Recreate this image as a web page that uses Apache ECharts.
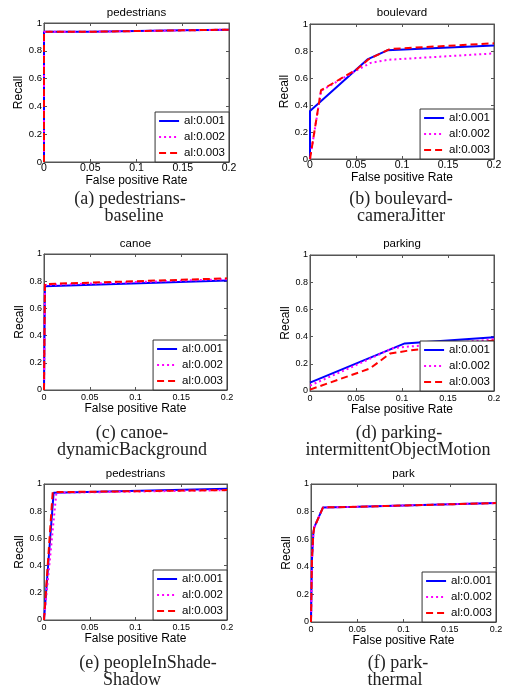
<!DOCTYPE html>
<html>
<head>
<meta charset="utf-8">
<script src="https://cdn.jsdelivr.net/npm/echarts@6.0.0/dist/echarts.min.js"></script>
<style>
html,body{margin:0;padding:0;background:#fff}
#chart{width:505px;height:690px}
</style>
</head>
<body>
<div id="chart"></div>
<script>
// legend names
var seriesNames = ['al:0.001', 'al:0.002', 'al:0.003'];

// (a) pedestrians - baseline
var baseline001 = [[0,0],[0,0.937],[0.05,0.937],[0.05,0.942],[0.1,0.942],[0.1,0.947],[0.15,0.947],[0.15,0.952],[0.2,0.952]];
var baseline002 = [[0,0],[0,0.937],[0.05,0.937],[0.05,0.942],[0.1,0.942],[0.1,0.947],[0.15,0.947],[0.15,0.952],[0.2,0.952]];
var baseline003 = [[0,0],[0,0.937],[0.05,0.937],[0.05,0.942],[0.1,0.942],[0.1,0.947],[0.15,0.947],[0.15,0.952],[0.2,0.952]];

// (b) boulevard - cameraJitter
var boulevard001 = [[0,0],[0,0.355],[0.063,0.74],[0.084,0.805],[0.2,0.84]];
var boulevard002 = [[0,0],[0.012,0.505],[0.05,0.655],[0.066,0.712],[0.085,0.735],[0.2,0.782]];
var boulevard003 = [[0,0],[0.012,0.51],[0.05,0.66],[0.064,0.74],[0.087,0.815],[0.2,0.857]];

// (c) canoe - dynamicBackground
var canoe001 = [[0,0],[0.001,0.763],[0.2,0.805]];
var canoe002 = [[0,0],[0.001,0.772],[0.2,0.815]];
var canoe003 = [[0,0],[0.001,0.779],[0.2,0.821]];

// (d) parking - intermittentObjectMotion
var parking001 = [[0,0.062],[0.103,0.35],[0.2,0.395]];
var parking002 = [[0,0.04],[0.05,0.19],[0.09,0.315],[0.105,0.325],[0.2,0.38]];
var parking003 = [[0,0.01],[0.065,0.165],[0.087,0.275],[0.105,0.295],[0.2,0.372]];

// (e) peopleInShade - Shadow
var shade001 = [[0,0],[0.0105,0.935],[0.2,0.965]];
var shade002 = [[0,0],[0.0135,0.935],[0.2,0.955]];
var shade003 = [[0,0],[0.0095,0.94],[0.2,0.955]];

// (f) park - thermal
var park001 = [[0,0],[0.001,0.45],[0.0025,0.64],[0.0035,0.685],[0.013,0.83],[0.05,0.835],[0.2,0.862]];
var park002 = [[0,0],[0.001,0.45],[0.0025,0.64],[0.0035,0.685],[0.013,0.83],[0.05,0.835],[0.2,0.862]];
var park003 = [[0,0],[0.001,0.45],[0.0025,0.64],[0.0035,0.685],[0.013,0.83],[0.05,0.835],[0.2,0.862]];

var panelTitles = ['pedestrians', 'boulevard', 'canoe', 'parking', 'pedestrians', 'park'];
var captions = [
  ['(a) pedestrians-', 'baseline'],
  ['(b) boulevard-', 'cameraJitter'],
  ['(c) canoe-', 'dynamicBackground'],
  ['(d) parking-', 'intermittentObjectMotion'],
  ['(e) peopleInShade-', 'Shadow'],
  ['(f) park-', 'thermal']
];
var panelData = [
  [baseline001, baseline002, baseline003],
  [boulevard001, boulevard002, boulevard003],
  [canoe001, canoe002, canoe003],
  [parking001, parking002, parking003],
  [shade001, shade002, shade003],
  [park001, park002, park003]
];

// plot boxes [left, top, width, height]
var boxes = [
  [44, 23, 185, 139],
  [310, 24, 184, 135],
  [44, 254, 183, 136],
  [310, 255, 184, 136],
  [44, 484, 183, 136],
  [311, 484, 185, 138]
];
// per panel: title y, caption line y's, caption x centers
var titleY = [13, 13, 244, 244, 474, 474];
var capY = [[199, 216], [199, 216], [433, 450], [433, 450], [663, 680], [663, 680]];
var capX = [[130, 134], [401, 401], [132, 132], [399, 398], [148, 132], [398, 395]];

var lineColors = ['#0000ff', '#ff00ff', '#ff0000'];
var lineTypes = ['solid', [2, 3], [7, 4]];

var W = 505, H = 690;
var grids = [], xAxes = [], yAxes = [], series = [], legends = [], graphics = [];

for (var i = 0; i < 6; i++) {
  var b = boxes[i];
  var row = Math.floor(i / 2);
  grids.push({
    left: b[0], top: b[1], width: b[2], height: b[3],
    show: true, borderColor: '#555', borderWidth: 1, backgroundColor: '#fff',
    containLabel: false, outerBoundsMode: 'none'
  });
  var xFont = row === 0 ? 10.5 : 9;
  var yFont = row === 0 ? 9.5 : 9;
  // bottom + top x axis
  xAxes.push({
    type: 'value', gridIndex: i, min: 0, max: 0.2, interval: 0.05, position: 'bottom',
    name: 'False positive Rate', nameLocation: 'middle', nameGap: row === 0 ? 10 : 12,
    nameTextStyle: {fontFamily: 'Liberation Sans', fontSize: 12, color: '#000'},
    axisLine: {show: true, onZero: false, lineStyle: {color: '#555', width: 1}},
    axisTick: {show: true, inside: true, length: 3, lineStyle: {color: '#555'}},
    axisLabel: {fontFamily: 'Liberation Sans', fontSize: xFont, color: '#000', margin: row === 0 ? 1 : 3,
      showMinLabel: true, showMaxLabel: true, hideOverlap: false},
    splitLine: {show: false}
  });
  xAxes.push({
    type: 'value', gridIndex: i, min: 0, max: 0.2, interval: 0.05, position: 'top',
    axisLine: {show: true, onZero: false, lineStyle: {color: '#555', width: 1}},
    axisTick: {show: true, inside: true, length: 3, lineStyle: {color: '#555'}},
    axisLabel: {show: false}, splitLine: {show: false}
  });
  yAxes.push({
    type: 'value', gridIndex: i, min: 0, max: 1, interval: 0.2, position: 'left',
    name: 'Recall', nameLocation: 'middle', nameGap: 17,
    nameTextStyle: {fontFamily: 'Liberation Sans', fontSize: 12, color: '#000'},
    axisLine: {show: true, onZero: false, lineStyle: {color: '#555', width: 1}},
    axisTick: {show: true, inside: true, length: 3, lineStyle: {color: '#555'}},
    axisLabel: {fontFamily: 'Liberation Sans', fontSize: yFont, color: '#000', margin: 2,
      showMinLabel: true, showMaxLabel: true, hideOverlap: false},
    splitLine: {show: false}
  });
  yAxes.push({
    type: 'value', gridIndex: i, min: 0, max: 1, interval: 0.2, position: 'right',
    axisLine: {show: true, onZero: false, lineStyle: {color: '#555', width: 1}},
    axisTick: {show: true, inside: true, length: 3, lineStyle: {color: '#555'}},
    axisLabel: {show: false}, splitLine: {show: false}
  });
  for (var s = 0; s < 3; s++) {
    series.push({
      type: 'line', name: seriesNames[s], xAxisIndex: i * 2, yAxisIndex: i * 2,
      data: panelData[i][s], symbol: 'none', color: lineColors[s],
      lineStyle: {color: lineColors[s], width: 2, type: lineTypes[s]},
      clip: true, z: 2, zlevel: 0
    });
  }
  legends.push({
    data: seriesNames, orient: 'vertical', z: 20, zlevel: 0,
    right: W - (b[0] + b[2]), bottom: H - (b[1] + b[3]),
    itemWidth: 20, itemHeight: 12, itemGap: 4, padding: [3, 4, 3, 3],
    borderColor: '#333', borderWidth: 1, backgroundColor: '#fff', borderRadius: 0,
    itemStyle: {color: 'rgba(0,0,0,0)', borderColor: 'rgba(0,0,0,0)', borderWidth: 0},
    textStyle: {fontFamily: 'Liberation Sans', fontSize: 11.5, color: '#000'},
    selectedMode: false
  });
  graphics.push({
    type: 'text', x: b[0] + b[2] / 2, y: titleY[i],
    style: {text: panelTitles[i], font: '11.5px "Liberation Sans"', fill: '#000',
      align: 'center', verticalAlign: 'middle', textAlign: 'center', textVerticalAlign: 'middle'}
  });
  for (var c = 0; c < 2; c++) {
    graphics.push({
      type: 'text', x: capX[i][c], y: capY[i][c],
      style: {text: captions[i][c], font: '18px "Liberation Serif"', fill: '#222',
        align: 'center', verticalAlign: 'middle', textAlign: 'center', textVerticalAlign: 'middle'}
    });
  }
}

var chart = echarts.init(document.getElementById('chart'), null, {renderer: 'canvas'});
chart.setOption({
  animation: false,
  backgroundColor: '#fff',
  grid: grids,
  xAxis: xAxes,
  yAxis: yAxes,
  legend: legends,
  series: series,
  graphic: graphics
});
</script>
</body>
</html>
